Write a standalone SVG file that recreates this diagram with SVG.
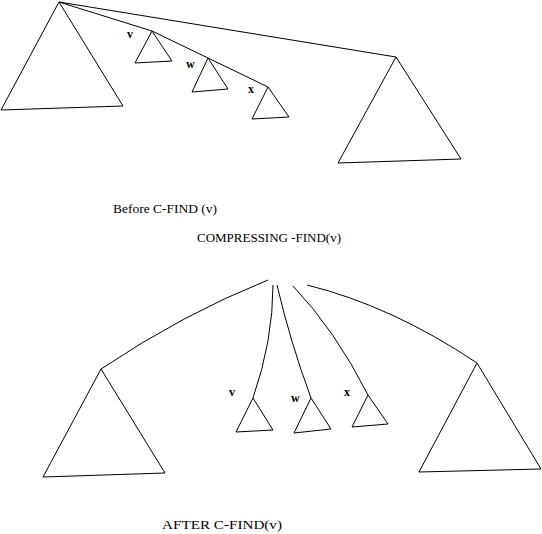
<svg xmlns="http://www.w3.org/2000/svg" width="542" height="534" viewBox="0 0 542 534">
<style>
.e{fill:none;stroke:#000;stroke-width:1}
.t{fill:#fff;stroke:#000;stroke-width:1}
.l{font-family:"Liberation Serif",serif;font-size:12px;font-weight:bold;fill:#000}
.c{font-family:"Liberation Serif",serif;font-size:12px;fill:#000}
</style>
<rect width="542" height="534" fill="#fff"/>
<g id="connectors">
<path class="e" d="M59,2 L396,57"/>
<path class="e" d="M59,2 L152,31 L208,58 L268,87"/>
<path class="e" d="M268,280 Q183,314 101,369"/>
<path class="e" d="M273,285 Q273,340 253,398"/>
<path class="e" d="M277,285 Q290,341 311,398"/>
<path class="e" d="M293,286 Q335,330 368,395"/>
<path class="e" d="M307,285 Q392,306 477,363"/>
</g>
<g id="before-left"><polygon class="t" points="59,2 1,110 123,106"/></g>
<g id="before-v"><polygon class="t" points="152,31 135,63 172,61"/><text class="l" x="127" y="38">v</text></g>
<g id="before-w"><polygon class="t" points="208,58 192,92 228,89"/><text class="l" x="186" y="68">w</text></g>
<g id="before-x"><polygon class="t" points="268,87 252,119 289,117"/><text class="l" x="248" y="93">x</text></g>
<g id="before-right"><polygon class="t" points="396,57 338,163 461,159"/></g>
<g id="after-left"><polygon class="t" points="101,369 43,477 165,473"/></g>
<g id="after-v"><polygon class="t" points="253,398 236,432 273,430"/><text class="l" x="229" y="396">v</text></g>
<g id="after-w"><polygon class="t" points="311,398 294,433 331,429"/><text class="l" x="291" y="402">w</text></g>
<g id="after-x"><polygon class="t" points="368,395 352,427 388,424"/><text class="l" x="344" y="396">x</text></g>
<g id="after-right"><polygon class="t" points="477,363 419,472 541,469"/></g>
<g id="captions">
<text class="c" x="113" y="213" textLength="104" lengthAdjust="spacingAndGlyphs">Before C-FIND (v)</text>
<text class="c" x="197" y="242" textLength="144" lengthAdjust="spacingAndGlyphs">COMPRESSING -FIND(v)</text>
<text class="c" x="162" y="529" font-size="13" textLength="120" lengthAdjust="spacingAndGlyphs">AFTER C-FIND(v)</text>
</g>
</svg>
